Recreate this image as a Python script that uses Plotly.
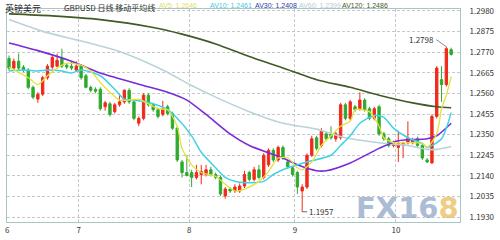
import plotly.graph_objects as go

# ---------------- data ----------------
opens = [1.2738,1.2689,1.2724,1.2694,1.2679,1.2591,1.2531,1.2556,1.2640,1.2694,
         1.2699,1.2738,1.2704,1.2699,1.2679,1.2699,1.2650,1.2591,1.2581,1.2581,
         1.2492,1.2507,1.2467,1.2502,1.2517,1.2576,1.2517,1.2408,1.2433,1.2551,
         1.2502,1.2477,1.2453,1.2492,1.2458,1.2383,1.2211,1.2157,1.2157,1.2132,
         1.2147,1.2147,1.2171,1.2147,1.2132,1.2038,1.2073,1.2063,1.2063,1.2088,
         1.2157,1.2122,1.2171,1.2132,1.2196,1.2270,1.2221,1.2285,1.2211,1.2181,
         1.2157,1.2063,1.2083,1.2245,1.2334,1.2295,1.2354,1.2354,1.2329,1.2334,
         1.2502,1.2433,1.2492,1.2482,1.2526,1.2482,1.2433,1.2492,1.2354,1.2329,
         1.2295,1.2285,1.2295,1.2309,1.2309,1.2329,1.2295,1.2221,1.2206,1.2443,
         1.2630,1.2605,1.2783]
highs = [1.2753,1.2738,1.2763,1.2704,1.2689,1.2600,1.2566,1.2650,1.2709,1.2753,
         1.2763,1.2788,1.2714,1.2724,1.2724,1.2709,1.2660,1.2600,1.2591,1.2591,
         1.2522,1.2517,1.2512,1.2556,1.2581,1.2586,1.2526,1.2443,1.2561,1.2561,
         1.2512,1.2487,1.2522,1.2502,1.2467,1.2393,1.2221,1.2245,1.2171,1.2196,
         1.2196,1.2196,1.2186,1.2157,1.2142,1.2083,1.2083,1.2097,1.2102,1.2166,
         1.2166,1.2186,1.2196,1.2255,1.2280,1.2280,1.2295,1.2295,1.2221,1.2191,
         1.2166,1.2097,1.2255,1.2344,1.2344,1.2383,1.2364,1.2393,1.2364,1.2512,
         1.2512,1.2526,1.2502,1.2566,1.2536,1.2492,1.2492,1.2502,1.2364,1.2339,
         1.2319,1.2369,1.2314,1.2418,1.2334,1.2339,1.2305,1.2231,1.2453,1.2699,
         1.2699,1.2798,1.2793]
lows = [1.2674,1.2679,1.2679,1.2669,1.2581,1.2531,1.2512,1.2546,1.2630,1.2684,
        1.2694,1.2689,1.2684,1.2679,1.2674,1.2630,1.2586,1.2566,1.2561,1.2472,
        1.2472,1.2443,1.2458,1.2492,1.2507,1.2507,1.2423,1.2393,1.2423,1.2492,
        1.2467,1.2433,1.2443,1.2448,1.2374,1.2211,1.2132,1.2137,1.2083,1.2122,
        1.2097,1.2137,1.2137,1.2122,1.2038,1.2024,1.2053,1.2053,1.2053,1.2078,
        1.2112,1.2112,1.2122,1.2122,1.2186,1.2211,1.2211,1.2221,1.2176,1.2137,
        1.2048,1.1957,1.2073,1.2236,1.2270,1.2285,1.2319,1.2324,1.2314,1.2324,
        1.2423,1.2423,1.2467,1.2472,1.2467,1.2423,1.2423,1.2344,1.2319,1.2285,
        1.2285,1.2211,1.2231,1.2300,1.2300,1.2285,1.2221,1.2206,1.2201,1.2433,
        1.2517,1.2595,1.2753]
closes = [1.2689,1.2724,1.2689,1.2679,1.2591,1.2541,1.2556,1.2640,1.2699,1.2743,
          1.2729,1.2699,1.2694,1.2689,1.2699,1.2640,1.2591,1.2576,1.2571,1.2482,
          1.2512,1.2453,1.2502,1.2517,1.2576,1.2517,1.2433,1.2433,1.2551,1.2502,
          1.2477,1.2443,1.2482,1.2458,1.2383,1.2221,1.2157,1.2142,1.2132,1.2157,
          1.2162,1.2171,1.2147,1.2132,1.2048,1.2073,1.2063,1.2083,1.2088,1.2147,
          1.2122,1.2171,1.2132,1.2245,1.2270,1.2221,1.2285,1.2231,1.2186,1.2147,
          1.2083,1.2083,1.2245,1.2329,1.2280,1.2369,1.2329,1.2334,1.2354,1.2502,
          1.2433,1.2517,1.2477,1.2526,1.2477,1.2433,1.2482,1.2354,1.2329,1.2295,
          1.2305,1.2305,1.2305,1.2334,1.2324,1.2295,1.2231,1.2211,1.2443,1.2689,
          1.2605,1.2788,1.2758]

# moving averages as drawn (candle index, value)
av5_idx = [0,4,6,8,10,12,15,17,19,21,23,25,27,29,31,33,35,36,38,40,43,45,47,49,52,54,56,58,60,61,
           63,65,67,69,71,72,75,77,78,80,83,86,87,89,90,91,92]
av5_val = [1.2694,1.2640,1.2605,1.2650,1.2689,1.2714,1.2704,1.2674,1.2615,1.2566,1.2526,1.2526,
           1.2531,1.2507,1.2482,1.2477,1.2393,1.2280,1.2196,1.2157,1.2137,1.2097,1.2063,1.2073,
           1.2112,1.2162,1.2231,1.2231,1.2181,1.2171,1.2211,1.2295,1.2344,1.2393,1.2418,1.2477,
           1.2467,1.2393,1.2334,1.2309,1.2309,1.2305,1.2285,1.2354,1.2482,1.2551,1.2646]
av10_idx = [0,3,6,8,11,13,15,19,22,24,26,30,33,35,38,40,43,45,48,53,55,58,62,67,69,71,73,76,78,
            80,83,86,87,90,91,92]
av10_val = [1.2674,1.2679,1.2674,1.2679,1.2674,1.2664,1.2679,1.2650,1.2581,1.2531,1.2526,1.2507,
            1.2477,1.2433,1.2344,1.2260,1.2181,1.2132,1.2107,1.2112,1.2147,1.2181,1.2211,1.2245,
            1.2295,1.2344,1.2408,1.2448,1.2438,1.2383,1.2334,1.2305,1.2285,1.2329,1.2383,1.2462]
av30_idx = [0,6,13,19,28,33,37,41,46,50,57,60,64,66,71,77,81,87,89,92]
av30_val = [1.2817,1.2778,1.2724,1.2664,1.2600,1.2566,1.2526,1.2453,1.2354,1.2295,1.2231,1.2196,
            1.2166,1.2166,1.2206,1.2280,1.2319,1.2329,1.2344,1.2408]
av60_idx = [0,7,15,23,32,38,43,50,57,64,70,77,83,87,89,92]
av60_val = [1.2936,1.2876,1.2827,1.2773,1.2679,1.2600,1.2541,1.2467,1.2408,1.2378,1.2334,1.2309,
            1.2295,1.2275,1.2275,1.2290]
av120_idx = [0,9,19,30,36,43,50,57,64,71,77,84,89,92]
av120_val = [1.2965,1.2955,1.2936,1.2896,1.2862,1.2812,1.2748,1.2689,1.2630,1.2591,1.2551,1.2512,
             1.2492,1.2487]

ma_names = ["AV5", "AV10", "AV30", "AV60", "AV120"]
ma_last = [1.2646, 1.2461, 1.2408, 1.2399, 1.2486]
ma_colors = ["#e2e23a", "#3fd2e6", "#7a2ad8", "#b9d3dc", "#3f5a22"]
ma_text_colors = ["#dede6a", "#48c8e0", "#2c3aa8", "#b8ccd8", "#3f5a22"]

month_pos = [-0.4, 14.5, 37.5, 59.5, 80.5]
month_labels = ["6", "7", "8", "9", "10"]
price_ticks = [1.1930, 1.2035, 1.2140, 1.2245, 1.2350, 1.2455, 1.2560, 1.2665, 1.2770, 1.2875, 1.2980]

title_cn = "英镑美元"
subtitle = "GBPUSD 日线 移动平均线"

# ---------------- figure ----------------
n = len(closes)
xs = list(range(n))
fig = go.Figure()

fig.add_trace(go.Candlestick(
    x=xs, open=opens, high=highs, low=lows, close=closes,
    increasing=dict(line=dict(color="#f02a1a", width=1), fillcolor="#f02a1a"),
    decreasing=dict(line=dict(color="#2eaa2e", width=1), fillcolor="#2eaa2e"),
    whiskerwidth=0, showlegend=False, hoverinfo="skip"))

for idx, val, col, w in [(av120_idx, av120_val, ma_colors[4], 1.6),
                         (av60_idx, av60_val, ma_colors[3], 1.6),
                         (av30_idx, av30_val, ma_colors[2], 1.6),
                         (av10_idx, av10_val, ma_colors[1], 1.5),
                         (av5_idx, av5_val, ma_colors[0], 1.3)]:
    fig.add_trace(go.Scatter(x=idx, y=val, mode="lines",
                             line=dict(color=col, width=w, shape="spline", smoothing=0.7),
                             showlegend=False, hoverinfo="skip"))

cjk = "Noto Sans CJK SC"
hdr_y = 1.039
annotations = []
annotations.append(dict(xref="paper", yref="paper", x=-0.006, y=hdr_y, xanchor="left", yanchor="top",
                        text=title_cn, showarrow=False, font=dict(family=cjk, size=9, color="#222"),
                        borderpad=0))
annotations.append(dict(xref="paper", yref="paper", x=0.124, y=hdr_y, xanchor="left", yanchor="top",
                        text=subtitle, showarrow=False, font=dict(family=cjk, size=8, color="#333"),
                        borderpad=0))
hdr_x = [0.3326, 0.4457, 0.5457, 0.6413, 0.7370]
for name, val, col, hx in zip(ma_names, ma_last, ma_text_colors, hdr_x):
    annotations.append(dict(xref="paper", yref="paper", x=hx, y=hdr_y, xanchor="left", yanchor="top",
                            text=f"{name}: {val:.4f}", showarrow=False, borderpad=0,
                            font=dict(family="Liberation Sans", size=7, color=col)))

# high / low labels
i_hi = max(range(n), key=lambda i: highs[i])
i_lo = min(range(n), key=lambda i: lows[i])
annotations.append(dict(x=i_hi, y=highs[i_hi], xref="x", yref="y", text=f"{highs[i_hi]:.4f}",
                        showarrow=True, arrowhead=0, arrowwidth=0.8, arrowcolor="#666",
                        ax=-10, ay=-7, xanchor="right", yanchor="middle",
                        font=dict(family=cjk, size=8, color="#333")))
annotations.append(dict(x=i_lo, y=lows[i_lo], xref="x", yref="y", text=f"{lows[i_lo]:.4f}",
                        showarrow=True, arrowhead=0, arrowwidth=0.8, arrowcolor="#444",
                        ax=5, ay=0, xanchor="left", yanchor="middle",
                        font=dict(family=cjk, size=8, color="#333")))

# watermark
annotations.append(dict(xref="paper", yref="paper", x=0.884, y=-0.025, xanchor="center", yanchor="bottom",
                        text="<b>FX16<span style='color:#e8b443'>8</span></b>", showarrow=False, opacity=0.65,
                        font=dict(family="DejaVu Sans", size=29, color="#7d9bbf")))

fig.update_layout(
    width=500, height=240,
    margin=dict(l=5, r=35, t=9, b=11),
    paper_bgcolor="white", plot_bgcolor="white",
    annotations=annotations,
    xaxis=dict(type="linear", range=[-0.42, 93.84], tickvals=month_pos, ticktext=month_labels,
               showgrid=True, gridcolor="#c8c8c8", griddash="3px,2px", gridwidth=1,
               zeroline=False, ticks="", rangeslider=dict(visible=False),
               showline=True, mirror=True, linecolor="#a9c6c6", linewidth=1,
               tickfont=dict(family=cjk, size=8, color="#333")),
    yaxis=dict(side="right", range=[1.1905, 1.2990], tickvals=price_ticks,
               ticktext=[f"{p:.4f}" for p in price_ticks],
               showgrid=True, gridcolor="#c8c8c8", griddash="3px,2px", gridwidth=1,
               zeroline=False, ticks="", ticklabelstandoff=7,
               showline=True, mirror=True, linecolor="#a9c6c6", linewidth=1,
               tickfont=dict(family=cjk, size=8, color="#333")),
)

fig.write_html("out.html")
